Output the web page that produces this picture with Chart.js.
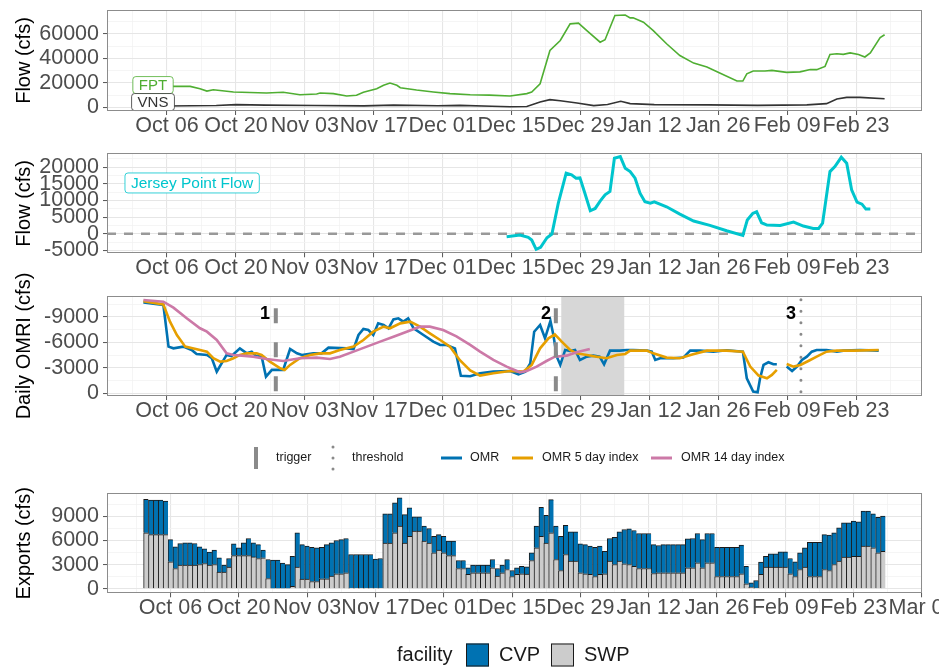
<!DOCTYPE html>
<html>
<head>
<meta charset="utf-8">
<title>Delta flows, OMR and exports</title>
<script src="https://cdn.jsdelivr.net/npm/chart.js@4.4.1/dist/chart.umd.min.js"></script>
<style>
  html, body { margin: 0; padding: 0; background: #fff; }
  #wrap { position: relative; width: 939px; height: 667px; overflow: hidden; }
  #wrap canvas { position: absolute; left: 0; }
</style>
</head>
<body>
<div id="wrap">
  <canvas id="flowChart" width="939" height="140" style="top:0px"></canvas>
  <canvas id="jerseyChart" width="939" height="145" style="top:140px"></canvas>
  <canvas id="omrChart" width="939" height="225" style="top:250px"></canvas>
  <canvas id="exportChart" width="939" height="197" style="top:470px"></canvas>
</div>
<script>
// x = days since Oct 06
const majorDays = [0, 14, 28, 42, 56, 70, 84, 98, 112, 126, 140];
const majorLabels = ["Oct 06", "Oct 20", "Nov 03", "Nov 17", "Dec 01", "Dec 15",
  "Dec 29", "Jan 12", "Jan 26", "Feb 09", "Feb 23"];
const minorDays = [-7, 7, 21, 35, 49, 63, 77, 91, 105, 119, 133, 147];
const exportDays = majorDays.concat([154]);
const exportLabels = majorLabels.concat(["Mar 08"]);

// Flow panel: FPT and VNS
const fptDays = [-6.8, 0, 1.3, 4.7, 6.7, 8.1, 9.4, 13.5, 20.2, 23.6, 27.0, 30.4, 31.1, 33.8, 36.5,
  38.5, 39.9, 42.6, 44.0, 45.3, 46.7, 47.4, 50.7, 54.1, 57.5, 61.6, 65.5, 69.7, 73.1, 74.1,
  75.8, 77.8, 79.9, 81.9, 83.6, 85.3, 88.0, 89.0, 91.0, 93.1, 94.1, 94.7, 96.8, 98.8, 101.5,
  104.2, 107.0, 109.7, 112.3, 115.8, 117.0, 117.8, 119.1, 121.5, 122.9, 125.9, 128.6, 130.7, 132.0,
  133.7, 134.7, 136.1, 137.4, 138.8, 140.5, 141.8, 142.9, 144.9, 145.8];
const fptFlow = [18500, 18000, 17100, 17100, 15200, 13300, 14400, 12500, 11700, 12300, 10300, 10900, 11700, 11200, 9200,
  9800, 12300, 15200, 18000, 19900, 18000, 16000, 14100, 12500, 11200, 10300, 10000, 9200, 11200, 12500,
  19300, 46500, 54700, 68300, 68900, 62800, 53300, 55300, 75100, 75500, 73200, 73200, 69700, 62800, 52000,
  42400, 36200, 32900, 28000, 21500, 21500, 27400, 29700, 29700, 30200, 28600, 29000, 31000, 30800,
  33500, 43300, 43800, 43300, 44500, 43300, 41200, 44500, 57000, 59400];
const vnsDays = [-6.8, 0, 10, 14, 20, 30, 40, 46, 55, 59.5, 66, 69.7, 73.1, 75.8, 77.8,
  79.9, 83.3, 86.7, 89.5, 92.2, 94.1, 99, 110, 120, 130, 134.0, 136.1, 138.1, 140.8, 145.8];
const vnsFlow = [1200, 1100, 1500, 2200, 1800, 1500, 1200, 1800, 1300, 1600, 800, 500, 600, 4400, 6300,
  5400, 3500, 1400, 2300, 4900, 3000, 2200, 2000, 1600, 2000, 3000, 6800, 8100, 8100, 7000];

// Jersey Point
const jpDays = [69.0, 71.7, 73.4, 74.1, 75.0, 75.9, 77.2, 78.2, 79.5, 81.1, 82.2, 83.1, 83.9, 84.9, 86.0,
  87.0, 88.0, 89.0, 90.0, 90.9, 92.1, 93.1, 94.1, 95.1, 96.1, 97.1, 98.2, 99.0, 101.5, 104.2,
  107.0, 110.3, 113.7, 117.0, 117.9, 119.0, 119.8, 120.8, 121.9, 124.6, 127.3, 129.3, 131.3, 132.4, 133.2,
  134.7, 135.7, 137.0, 138.1, 139.1, 140.2, 141.2, 142.0, 142.9];
const jpFlow = [-900, -400, -1100, -1900, -4700, -4100, -1200, -100, 9200, 18200, 17700, 16700, 16800, 12200, 6900,
  7600, 9800, 11700, 12700, 22700, 23200, 19700, 18700, 16700, 12200, 9600, 9200, 9600, 8100, 5900,
  3800, 2500, 900, -500, 4100, 6100, 6600, 3300, 2600, 2500, 3500, 2300, 1600, 1600, 3200,
  18700, 20200, 23000, 21200, 13200, 9500, 8900, 7400, 7400];

// Daily OMRI
const omrDays = [-4.8, -0.75, 0.3, 1.3, 3.3, 5.0, 6.0, 8.1, 9.1, 10.1,
  12.1, 13.1, 14.8, 16.2, 17.2, 18.2, 19.2, 20.1, 21.3, 22.3,
  23.6, 25.0, 26.4, 27.4, 29.7, 31.4, 32.8, 36.5, 37.9, 38.9,
  39.9, 40.9, 41.9, 42.9, 44.0, 45.0, 46.0, 47.0, 48.0, 49.0,
  50.1, 52.1, 54.1, 55.5, 56.8, 58.5, 59.7, 61.6, 63.6, 66.3,
  69.7, 71.4, 72.8, 73.8, 74.6, 75.8, 76.8, 77.9, 78.5, 79.2,
  79.9, 80.9, 81.9, 82.9, 83.9, 85.3, 86.6, 87.9, 88.8, 90.0,
  92.0, 93.4, 94.7, 97.5, 98.5, 99.2, 100.2, 102.9, 104.9, 106.3,
  108.3, 111.0, 113.7, 117.0, 117.8, 119.1, 120.0, 120.5, 121.2, 122.2,
  123.2, 123.9, 124.9, 125.9, 127.0, 128.0, 129.0, 130.0, 131.0, 132.0,
  134.0, 136.1, 137.4, 140.8, 144.6];
const omrVals = [-10700, -10400, -5490, -5290, -5490, -5100, -4630, -4510, -4120, -2550,
  -4510, -4390, -5290, -4700, -4900, -4310, -4390, -1960, -2750, -2750,
  -2750, -5210, -4700, -4510, -4700, -4700, -5370, -5290, -5210, -6860,
  -7570, -7450, -6860, -8230, -8040, -7650, -8700, -8820, -8430, -8820,
  -7650, -6860, -6080, -5690, -5690, -5290, -2050, -2000, -2350, -2550,
  -2630, -2240, -2550, -3530, -7250, -8040, -6470, -8510, -6860, -4310,
  -3340, -5100, -4980, -5100, -3920, -4310, -4430, -4310, -3410, -5020,
  -5020, -5100, -5100, -5020, -4900, -3920, -4120, -4120, -4200, -5020,
  -5020, -4900, -5060, -4900, -1770, -200, -120, -1770, -3340, -3650,
  -3410, -3410, null, -3140, -2630, -3140, -3920, -4310, -4900, -5100,
  -5100, -4900, -5020, -5100, -5020];
const omr5Days = [-4.8, -0.75, 0.6, 2.0, 3.7, 6.7, 8.1, 9.4, 10.8, 12.1,
  13.5, 14.8, 16.2, 18.2, 19.2, 20.9, 23.0, 23.9, 25.0, 27.0,
  29.1, 31.1, 33.1, 35.1, 37.9, 39.9, 41.9, 44.0, 45.3, 47.4,
  49.4, 51.4, 53.4, 55.5, 57.5, 59.5, 61.6, 63.6, 66.3, 69.7,
  72.4, 74.1, 75.8, 77.5, 78.8, 80.2, 81.9, 83.2, 85.3, 87.3,
  89.3, 91.4, 93.1, 94.1, 97.5, 98.8, 101.5, 104.2, 106.9, 109.7,
  113.7, 117.0, 118.5, 120.2, 121.9, 122.9, 123.9, 124.9, 125.9, 127.3,
  128.7, 130.3, 132.0, 134.0, 136.1, 139.5, 144.6];
const omr5Vals = [-10850, -10460, -8430, -6860, -5490, -5100, -4900, -4120, -3730, -3800,
  -4120, -4510, -4700, -4700, -4510, -3730, -2940, -2750, -3340, -4120,
  -4510, -4700, -4700, -5100, -5490, -6270, -7250, -7840, -7650, -8230,
  -8430, -7840, -7060, -6270, -5490, -3900, -2700, -2080, -2350, -2630,
  -2550, -3340, -5290, -6470, -6940, -6080, -5100, -4700, -4510, -4310,
  -4120, -4510, -4630, -5020, -5020, -4700, -4200, -4120, -4600, -5020,
  -5020, -4900, -3140, -2080, -1770, -2160, -2750, null, -3450, -3140,
  -3340, -3800, -4310, -4900, -5020, -5020, -5100];
const omr14Days = [-4.8, -0.75, 1.3, 4.0, 6.7, 8.1, 10.1, 12.1, 13.5, 17.5,
  20.2, 23.6, 27.0, 30.4, 33.1, 35.1, 37.9, 40.6, 43.3, 46.0,
  48.7, 51.4, 53.4, 56.1, 58.8, 61.6, 63.6, 66.3, 69.0, 71.7,
  73.1, 75.1, 77.1, 78.8, 81.2, 83.2, 85.9];
const omr14Vals = [-10980, -10780, -10080, -8820, -7650, -7250, -6270, -4700, -4510, -4310,
  -4040, -3800, -4120, -4200, -4040, -4310, -4900, -5490, -6080, -6660,
  -7250, -7840, -7840, -7450, -6700, -5690, -4900, -3920, -3140, -2470,
  -2630, -3140, -3800, -4310, -4430, -4820, -5210];
const triggerDays = [22.1, 79.0];
const thresholdDay = 128.8;
const markerNames = ["1", "2", "3"];
const markerDays = [19.9, 77.0, 126.8];
const shadeStart = 80.1;
const shadeEnd = 92.9;

// Exports by facility, one bar per day starting at day -5
const firstBarDay = -5;
const swpFlow = [6940, 6730, 6730, 6730, 6730, 3350, 2520, 2930, 2930, 2930,
  2930, 3010, 3140, 2930, 3010, 2070, 2070, 2680, 4120, 4120,
  4120, 4120, 3960, 3760, 3840, 1280, 60, 60, 60, 60,
  320, 2680, 1190, 1190, 900, 900, 1240, 1240, 1570, 1860,
  1860, 1980, 100, 100, 100, 100, 100, 100, 100, 5660,
  5660, 6940, 7770, 5660, 6520, 7150, 7150, 5910, 5660, 4460,
  4790, 4460, 4120, 4120, 2520, 2520, 1780, 1980, 1980, 1980,
  1980, 2600, 1570, 1980, 2390, 1530, 1780, 1860, 1820, 3510,
  5080, 6520, 5660, 6940, 3630, 2270, 4250, 3430, 3430, 1980,
  1860, 1780, 1530, 1780, 1860, 3430, 3010, 3430, 3100, 3010,
  2800, 2520, 2520, 2520, 1900, 1980, 1980, 1980, 1980, 1980,
  1980, 2600, 2600, 3220, 2600, 3220, 3220, 1530, 1530, 1530,
  1530, 1530, 1860, 620, 200, 100, 1780, 2680, 2680, 2680,
  2680, 2680, 1860, 1530, 2390, 2680, 1530, 1530, 1530, 2390,
  2270, 3010, 3430, 3920, 3920, 4040, 4040, 5290, 5290, 5080,
  4460, 4660];
const cvpFlow = [4160, 4270, 4270, 4270, 4170, 2760, 2680, 2690, 2770, 2770,
  2690, 2190, 1810, 1610, 1780, 1770, 860, 1080, 1460, 960,
  1580, 2120, 1740, 1730, 950, 2350, 3490, 3490, 3140, 2940,
  3720, 4260, 4300, 4100, 4260, 4180, 3920, 4250, 4130, 4130,
  4250, 4260, 4150, 4150, 4150, 4150, 4150, 3600, 3660, 3640,
  3640, 3720, 3510, 3550, 3520, 1770, 1770, 1860, 1820, 2060,
  1940, 2060, 1790, 1790, 990, 990, 820, 950, 950, 950,
  950, 1030, 950, 950, 1240, 740, 820, 940, 900, 950,
  2690, 3600, 3470, 4130, 4140, 4250, 3640, 3640, 3640, 3600,
  3630, 3510, 3630, 3510, 2800, 2810, 3390, 3640, 4260, 4430,
  4430, 4340, 4340, 4340, 3590, 3390, 3510, 3510, 3510, 3510,
  3510, 3590, 3640, 3640, 3510, 3640, 3640, 3630, 3630, 3630,
  3630, 3630, 3550, 2180, 540, 930, 1530, 1360, 1650, 1650,
  1900, 1900, 1900, 1820, 2070, 2400, 4250, 4250, 4250, 4340,
  4380, 3930, 4130, 4260, 4260, 4350, 4260, 4340, 4340, 4220,
  4420, 4350];

const omrNames = ["OMR", "OMR 5 day index", "OMR 14 day index"];
const omrColors = ["#0072b2", "#e69f00", "#cc79a7"];
const facilityNames = ["CVP", "SWP"];
const facilityColors = ["#0072b2", "#cccccc"];

const FONT = '"Liberation Sans", Arial, Helvetica, sans-serif';
const TICK_SIZE = 21.5;
Chart.defaults.font.family = FONT;
Chart.defaults.color = "#4d4d4d";

function isIn(list, v) {
  return list.indexOf(v) >= 0;
}

function pts(days, vals) {
  return days.map((d, i) => ({ x: d, y: vals[i] }));
}

// no extra room for labels that stick out past the panel
function noScalePadding(s) {
  s.paddingLeft = 0;
  s.paddingRight = 0;
  s.paddingTop = 0;
  s.paddingBottom = 0;
}

function gridOpts(majors) {
  const major = c => c.tick && isIn(majors, c.tick.value);
  return {
    offset: false,
    tickLength: 4,
    color: c => major(c) ? "#e6e6e6" : "#f2f2f2",
    lineWidth: c => major(c) ? 1.1 : 0.8,
    tickColor: c => major(c) ? "#555" : "rgba(0,0,0,0)",
    tickWidth: 1
  };
}

function xAxis(min, max, days, labels) {
  const all = days.concat(minorDays).filter(v => v >= min && v <= max).sort((a, b) => a - b);
  return {
    type: "linear",
    min: min,
    max: max,
    offset: false,
    afterBuildTicks: s => { s.ticks = all.map(v => ({ value: v })); },
    afterFit: s => { s.height = 29; noScalePadding(s); },
    ticks: {
      autoSkip: false, maxRotation: 0, minRotation: 0, padding: 0,
      color: "#4d4d4d", font: { size: TICK_SIZE, lineHeight: 1 },
      callback: v => isIn(days, v) ? labels[days.indexOf(v)] : ""
    },
    grid: gridOpts(days),
    border: { display: false }
  };
}

function yAxis(min, max, majors, minors, title, reverse) {
  const all = majors.concat(minors).filter(v => v >= min && v <= max).sort((a, b) => a - b);
  return {
    type: "linear",
    min: min,
    max: max,
    reverse: !!reverse,
    afterBuildTicks: s => { s.ticks = all.map(v => ({ value: v })); },
    afterFit: s => { s.width = 107; noScalePadding(s); },
    ticks: {
      autoSkip: false, padding: 4,
      color: "#4d4d4d", font: { size: TICK_SIZE, lineHeight: 1 },
      callback: v => isIn(majors, v) ? String(v) : ""
    },
    grid: gridOpts(majors),
    border: { display: false },
    title: {
      display: true, text: title, color: "#000",
      font: { size: 20, lineHeight: 1.2 }, padding: { top: 12, bottom: 0 }
    }
  };
}

function baseOptions(top, bottom, x, y) {
  return {
    responsive: false,
    animation: false,
    events: [],
    layout: { padding: { left: 0, right: 17, top: top, bottom: bottom }, autoPadding: false },
    plugins: { legend: { display: false }, tooltip: { enabled: false } },
    scales: { x: x, y: y }
  };
}

function lineSet(days, vals, color, width) {
  return {
    data: pts(days, vals),
    borderColor: color,
    backgroundColor: color,
    borderWidth: width,
    pointRadius: 0,
    tension: 0,
    spanGaps: false,
    fill: false
  };
}

// panel border, drawn on top like ggplot
const framePlugin = {
  id: "frame",
  afterDraw(chart) {
    const a = chart.chartArea;
    const ctx = chart.ctx;
    ctx.save();
    ctx.strokeStyle = "#8c8c8c";
    ctx.lineWidth = 1;
    ctx.strokeRect(Math.round(a.left) + 0.5, Math.round(a.top) + 0.5,
      Math.round(a.right - a.left) - 1, Math.round(a.bottom - a.top) - 1);
    ctx.restore();
  }
};
Chart.register(framePlugin);

function drawTag(ctx, text, cx, cy, color, size, h) {
  ctx.save();
  ctx.font = size + "px " + FONT;
  const w = ctx.measureText(text).width + 12;
  const x = cx - w / 2, y = cy - h / 2, r = 3;
  ctx.beginPath();
  ctx.moveTo(x + r, y);
  ctx.arcTo(x + w, y, x + w, y + h, r);
  ctx.arcTo(x + w, y + h, x, y + h, r);
  ctx.arcTo(x, y + h, x, y, r);
  ctx.arcTo(x, y, x + w, y, r);
  ctx.closePath();
  ctx.fillStyle = "#fff";
  ctx.fill();
  ctx.strokeStyle = color;
  ctx.lineWidth = 0.8;
  ctx.stroke();
  ctx.fillStyle = color;
  ctx.textAlign = "center";
  ctx.textBaseline = "middle";
  ctx.fillText(text, cx, cy + 1);
  ctx.restore();
}

// ---- Panel 1: FPT / VNS flow
const fptColor = "#4fae32";
const vnsColor = "#333333";
new Chart(document.getElementById("flowChart"), {
  type: "line",
  data: { datasets: [lineSet(fptDays, fptFlow, fptColor, 1.6), lineSet(vnsDays, vnsFlow, vnsColor, 1.6)] },
  options: baseOptions(10, 0,
    xAxis(-12.2, 153.4, majorDays, majorLabels),
    yAxis(-3030, 79650, [0, 20000, 40000, 60000], [10000, 30000, 50000, 70000], "Flow (cfs)")),
  plugins: [{
    id: "flowTags",
    afterDatasetsDraw(chart) {
      const sx = chart.scales.x, sy = chart.scales.y;
      drawTag(chart.ctx, "FPT", sx.getPixelForValue(-2.85), sy.getPixelForValue(18200), fptColor, 15, 17);
      drawTag(chart.ctx, "VNS", sx.getPixelForValue(-2.85), sy.getPixelForValue(4300), vnsColor, 15, 17);
    }
  }]
});

// ---- Panel 2: Jersey Point flow
const jpColor = "#00c5cd";
new Chart(document.getElementById("jerseyChart"), {
  type: "line",
  data: {
    datasets: [
      lineSet(jpDays, jpFlow, jpColor, 3),
      Object.assign(lineSet([-12.2, 153.4], [0, 0], "#999999", 2.5), { borderDash: [9, 8] })
    ]
  },
  options: baseOptions(13.3, 2.7,
    xAxis(-12.2, 153.4, majorDays, majorLabels),
    yAxis(-5900, 24200, [-5000, 0, 5000, 10000, 15000, 20000], [-2500, 2500, 7500, 12500, 17500, 22500], "Flow (cfs)")),
  plugins: [{
    id: "jpTag",
    afterDatasetsDraw(chart) {
      const sx = chart.scales.x, sy = chart.scales.y;
      drawTag(chart.ctx, "Jersey Point Flow", sx.getPixelForValue(5.1), sy.getPixelForValue(15270), jpColor, 15.5, 20);
    }
  }]
});

// ---- Panel 3: Daily OMRI
const triggerSets = triggerDays.map(d => Object.assign(
  lineSet([d, d], [-10000, 0], "#8a8a8a", 4), { borderDash: [15, 19] }));
const thresholdSet = Object.assign(lineSet([thresholdDay, thresholdDay], [-11000, 0], "#8a8a8a", 3),
  { borderDash: [0, 11.5], borderCapStyle: "round" });

new Chart(document.getElementById("omrChart"), {
  type: "line",
  data: {
    datasets: triggerSets.concat([thresholdSet,
      lineSet(omr14Days, omr14Vals, omrColors[2], 2.6),
      lineSet(omr5Days, omr5Vals, omrColors[1], 2.6),
      lineSet(omrDays, omrVals, omrColors[0], 2.6)])
  },
  options: baseOptions(46, 50,
    xAxis(-12.2, 153.4, majorDays, majorLabels),
    yAxis(-11450, 320, [-9000, -6000, -3000, 0], [-10500, -7500, -4500, -1500], "Daily OMRI (cfs)", true)),
  plugins: [{
    id: "omrExtras",
    beforeDatasetsDraw(chart) {
      const a = chart.chartArea, sx = chart.scales.x, ctx = chart.ctx;
      const x0 = sx.getPixelForValue(shadeStart), x1 = sx.getPixelForValue(shadeEnd);
      ctx.save();
      ctx.fillStyle = "#d7d7d7";
      ctx.fillRect(x0, a.top, x1 - x0, a.bottom - a.top);
      ctx.restore();
    },
    afterDatasetsDraw(chart) {
      const sx = chart.scales.x, sy = chart.scales.y, ctx = chart.ctx;
      ctx.save();
      ctx.font = "bold 18px " + FONT;
      ctx.fillStyle = "#000";
      ctx.textAlign = "center";
      ctx.textBaseline = "middle";
      markerNames.forEach((t, i) => ctx.fillText(t, sx.getPixelForValue(markerDays[i]), sy.getPixelForValue(-9330)));
      ctx.restore();
    },
    afterDraw(chart) {
      const ctx = chart.ctx, y = 208;
      ctx.save();
      // trigger key
      ctx.strokeStyle = "#8a8a8a";
      ctx.lineWidth = 4;
      ctx.beginPath(); ctx.moveTo(256, y - 11); ctx.lineTo(256, y + 11); ctx.stroke();
      // threshold key
      ctx.fillStyle = "#8a8a8a";
      [-11, 0, 11].forEach(dy => { ctx.beginPath(); ctx.arc(333, y + dy, 1.5, 0, Math.PI * 2); ctx.fill(); });
      // line keys
      const keyX = [441, 512, 651];
      ctx.lineWidth = 3;
      keyX.forEach((kx, i) => {
        ctx.strokeStyle = omrColors[i];
        ctx.beginPath(); ctx.moveTo(kx, y); ctx.lineTo(kx + 21, y); ctx.stroke();
      });
      ctx.font = "12.5px " + FONT;
      ctx.fillStyle = "#1a1a1a";
      ctx.textAlign = "left";
      ctx.textBaseline = "middle";
      ctx.fillText("trigger", 276, y);
      ctx.fillText("threshold", 352, y);
      const textX = [470, 542, 681];
      omrNames.forEach((t, i) => ctx.fillText(t, textX[i], y));
      ctx.restore();
    }
  }]
});

// ---- Panel 4: exports by facility
const barDays = swpFlow.map((v, i) => firstBarDay + i);
const barBorder = { top: 1, left: 1, right: 0, bottom: 0 };
const exportX = xAxis(-13, 154, exportDays, exportLabels);
exportX.stacked = true;
const exportY = yAxis(-560, 11850, [0, 3000, 6000, 9000], [1500, 4500, 7500, 10500], "Exports (cfs)");
exportY.stacked = true;

new Chart(document.getElementById("exportChart"), {
  type: "bar",
  data: {
    datasets: [
      {
        label: facilityNames[1], data: pts(barDays, swpFlow),
        backgroundColor: facilityColors[1], borderColor: "#1a1a1a", borderWidth: barBorder,
        borderSkipped: false, barPercentage: 1, categoryPercentage: 1
      },
      {
        label: facilityNames[0], data: pts(barDays, cvpFlow),
        backgroundColor: facilityColors[0], borderColor: "#1a1a1a", borderWidth: barBorder,
        borderSkipped: false, barPercentage: 1, categoryPercentage: 1
      }
    ]
  },
  options: baseOptions(23.3, 44.7, exportX, exportY),
  plugins: [{
    id: "facilityLegend",
    afterDraw(chart) {
      const ctx = chart.ctx, y = 185;
      ctx.save();
      ctx.font = "20px " + FONT;
      ctx.fillStyle = "#1a1a1a";
      ctx.textAlign = "left";
      ctx.textBaseline = "middle";
      ctx.fillText("facility", 397, y);
      const boxX = [466, 551], textX = [499, 584];
      facilityNames.forEach((t, i) => {
        ctx.fillStyle = facilityColors[i];
        ctx.fillRect(boxX[i], y - 11.5, 23, 23);
        ctx.strokeStyle = "#1a1a1a";
        ctx.lineWidth = 1;
        ctx.strokeRect(boxX[i] + 0.5, y - 11, 22, 22);
        ctx.fillStyle = "#1a1a1a";
        ctx.fillText(t, textX[i], y);
      });
      ctx.restore();
    }
  }]
});
</script>
</body>
</html>
